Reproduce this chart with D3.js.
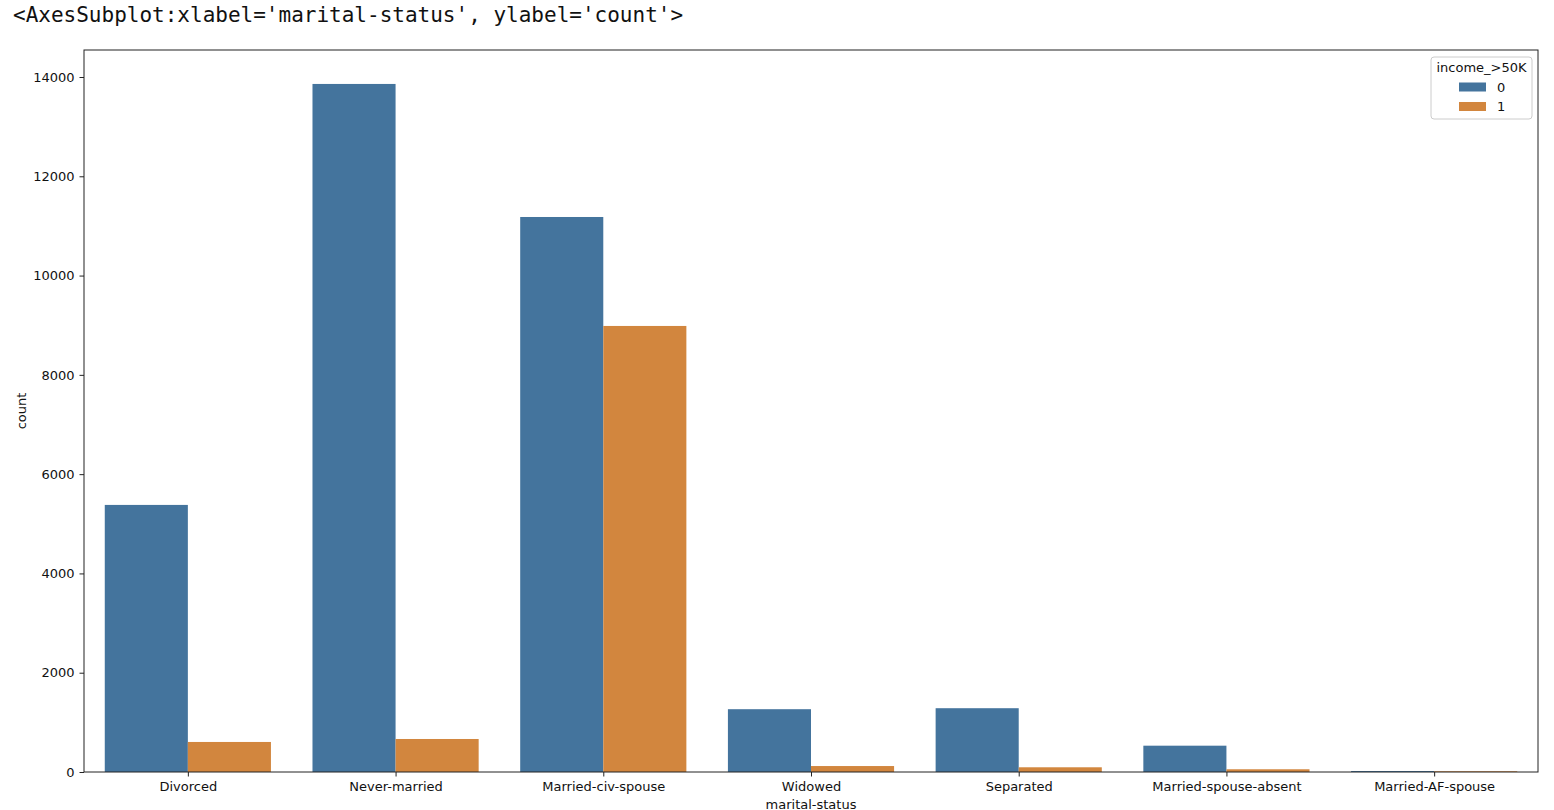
<!DOCTYPE html>
<html>
<head>
<meta charset="utf-8">
<script src="https://cdn.jsdelivr.net/npm/d3@7"></script>
<style>
body { margin: 0; background: #fff; }
text { font-family: "DejaVu Sans", sans-serif; }
</style>
</head>
<body>
<svg id="chart" width="1554" height="810"></svg>
<script>
var categories = ['Divorced', 'Never-married', 'Married-civ-spouse', 'Widowed', 'Separated', 'Married-spouse-absent', 'Married-AF-spouse']
var hues = ['0', '1']
var count0 = [5380, 13860, 11180, 1265, 1285, 530, 20]
var count1 = [605, 665, 8985, 120, 95, 55, 15]
var yTicks = [0, 2000, 4000, 6000, 8000, 10000, 12000, 14000]
var colors = ['#44749d', '#d2863e']

var svg = d3.select('#chart')
var plotL = 84, plotR = 1538, plotT = 50, plotB = 772

svg.append('text')
.attr('x', 13).attr('y', 22)
.style('font-family', '"DejaVu Sans Mono", monospace')
.style('font-size', '21px')
.attr('fill', '#111')
.text("<AxesSubplot:xlabel='marital-status', ylabel='count'>")

var x = d3.scaleBand().domain(categories).range([plotL, plotR]).paddingInner(0.2).paddingOuter(0.1)
var xs = d3.scaleBand().domain(hues).range([0, x.bandwidth()])
var y = d3.scaleLinear().domain([0, 14000]).range([plotB, plotB - 695])

var rows = categories.map(function (c, i) { return { cat: c, vals: [count0[i], count1[i]] } })

var g = svg.selectAll('g.cat')
.data(rows)
.enter().append('g')
.attr('class', 'cat')
.attr('transform', function (d) { return 'translate(' + x(d.cat) + ',0)' })

g.selectAll('rect')
.data(function (d) { return d.vals.map(function (v, i) { return { hue: hues[i], v: v } }) })
.enter().append('rect')
.attr('x', function (d) { return xs(d.hue) })
.attr('width', xs.bandwidth())
.attr('y', function (d) { return y(d.v) })
.attr('height', function (d) { return plotB - y(d.v) })
.attr('fill', function (d, i) { return colors[i] })

// frame
svg.append('rect')
.attr('x', plotL).attr('y', plotT)
.attr('width', plotR - plotL).attr('height', plotB - plotT)
.attr('fill', 'none').attr('stroke', '#222').attr('stroke-width', 1)

var xAxis = svg.append('g')
.attr('transform', 'translate(0,' + plotB + ')')
.call(d3.axisBottom(d3.scalePoint().domain(categories).range([x(categories[0]) + x.bandwidth() / 2, x(categories[6]) + x.bandwidth() / 2])).tickSizeOuter(0).tickSize(4.5).tickPadding(5))
var yAxis = svg.append('g')
.attr('transform', 'translate(' + plotL + ',0)')
.call(d3.axisLeft(y).tickValues(yTicks).tickFormat(d3.format('d')).tickSizeOuter(0).tickSize(4.5).tickPadding(5))

;[xAxis, yAxis].forEach(function (a) {
  a.select('.domain').remove()
  a.selectAll('text').style('font-size', '13px').style('font-family', '"DejaVu Sans", sans-serif').attr('fill', '#111')
  a.selectAll('line').attr('stroke', '#222')
})

svg.append('text')
.attr('x', (plotL + plotR) / 2).attr('y', 809)
.attr('text-anchor', 'middle').style('font-size', '13px').attr('fill', '#111')
.text('marital-status')

svg.append('text')
.attr('transform', 'translate(26,' + (plotT + plotB) / 2 + ') rotate(-90)')
.attr('text-anchor', 'middle').style('font-size', '13px').attr('fill', '#111')
.text('count')

// legend
var lg = svg.append('g').attr('transform', 'translate(1431,57)')
lg.append('rect')
.attr('width', 101).attr('height', 62).attr('rx', 3)
.attr('fill', '#fff').attr('fill-opacity', 0.8).attr('stroke', '#ccc')
lg.append('text').attr('x', 50.5).attr('y', 15).attr('text-anchor', 'middle')
.style('font-size', '13px').attr('fill', '#111').text('income_>50K')
lg.selectAll('g.item')
.data(hues)
.enter().append('g')
.attr('class', 'item')
.attr('transform', function (d, i) { return 'translate(0,' + (30 + i * 19.5) + ')' })
.each(function (d, i) {
  var it = d3.select(this)
  it.append('rect').attr('x', 28).attr('y', -4.5).attr('width', 27).attr('height', 9).attr('fill', colors[i])
  it.append('text').attr('x', 66).attr('y', 4.5).style('font-size', '13px').attr('fill', '#111').text(d)
})
</script>
</body>
</html>
